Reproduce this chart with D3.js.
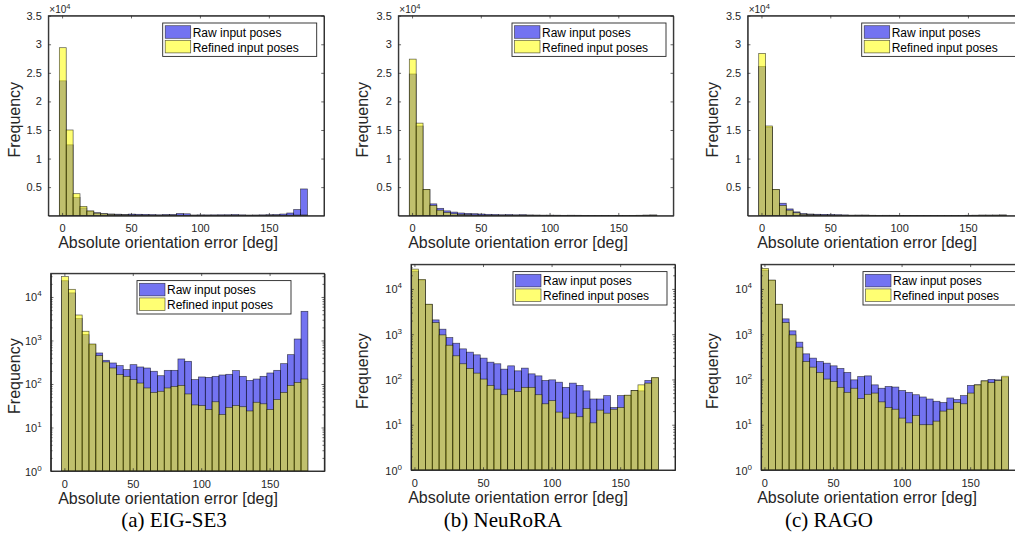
<!DOCTYPE html>
<html>
<head>
<meta charset="utf-8">
<script src="https://cdn.jsdelivr.net/npm/d3@7"></script>
<style>
  body { margin: 0; background: #fff; }
  svg { display: block; }
  text { font-family: "Liberation Sans", Arial, Helvetica, sans-serif; }
  text.cap { font-family: "Liberation Serif", "Times New Roman", serif; }
</style>
</head>
<body>
<svg id="fig"></svg>
<script>
// ---- data (histogram counts per 5 deg bin) ----
var binStarts = [0, 5, 10, 15, 20, 25, 30, 35, 40, 45, 50, 55, 60, 65, 70, 75, 80, 85,
                 90, 95, 100, 105, 110, 115, 120, 125, 130, 135, 140, 145, 150, 155, 160, 165, 170, 175];
var xTickVals = [0, 50, 100, 150];
var linTickVals = [0.5, 1, 1.5, 2, 2.5, 3, 3.5];   // x 10^4
var logTickVals = [1, 10, 100, 1000, 10000];
var seriesNames = ["Raw input poses", "Refined input poses"];
var captions = ["(a) EIG-SE3", "(b) NeuRoRA", "(c) RAGO"];
var xLabel = "Absolute orientation error [deg]";
var yLabel = "Frequency";

var eigRaw = [23600, 12400, 3180, 1360, 800, 516, 350, 304, 264, 214, 278, 246, 233, 196, 155, 206, 206, 376,
              332, 126, 145, 142, 150, 161, 167, 203, 150, 121, 130, 150, 179, 206, 293, 472, 1080, 4680];
var eigRefined = [29400, 15000, 3850, 1630, 830, 448, 321, 233, 164, 150, 126, 105, 81, 64, 68, 81, 88, 93,
                  59, 33, 32, 26, 39, 20, 29, 32, 30, 24, 38, 35, 26, 44, 64, 93, 109, 130];

var neuRaw = [24800, 15700, 4550, 2070, 1290, 843, 632, 474, 401, 350, 296, 241, 222, 169, 200, 155, 178, 133,
              120, 95, 98, 87, 67, 83, 74, 56, 37, 37, 44, 24, 44, 44, 57, 56, 95, 108];
var neuRefined = [27400, 16200, 4600, 1810, 966, 571, 333, 222, 175, 138, 102, 74, 61, 46, 61, 54, 67, 67,
                  46, 29, 34, 19, 14, 18, 15, 23, 11, 21, 18, 22, 24, 45, 57, 76, 83, 111];

var ragoRaw = [26100, 15500, 4550, 2180, 1186, 667, 368, 296, 250, 229, 200, 175, 143, 98, 116, 120, 76, 64,
               70, 68, 57, 52, 46, 41, 37, 33, 31, 39, 36, 44, 74, 76, 93, 100, 98, 110];
var ragoRefined = [28400, 15700, 4600, 1810, 966, 516, 250, 187, 143, 102, 90, 67, 52, 64, 38, 47, 50, 32,
                   24, 22, 14, 11, 16, 10, 10, 12, 20, 22, 31, 29, 50, 76, 93, 85, 95, 118];

var methods = [
  { raw: eigRaw, refined: eigRefined },
  { raw: neuRaw, refined: neuRefined },
  { raw: ragoRaw, refined: ragoRefined }
];

// ---- layout ----
var W = 1015, H = 545;
var binShift = -2, binWidth = 5;
var axisCol = "#262626";
var colRaw = "#0000e6", colRef = "#ffff00", barAlpha = 0.55;

// axes boxes [left, right, top, bottom]
var panels = [
  { col: 0, log: false, box: [48.3, 324, 15.7, 215.7], xmin: -10, legR: 7.3 },
  { col: 1, log: false, box: [398.3, 673.3, 15.7, 215.7], xmin: -10, legR: 7.3 },
  { col: 2, log: false, box: [747.7, 1023, 15.7, 215.7], xmin: -10, legR: 7.3 },
  { col: 0, log: true, box: [50.7, 324.3, 273.3, 471], xmin: -10, legR: 33.3 },
  { col: 1, log: true, box: [411, 675, 264.3, 470], xmin: -2.5, legR: 8 },
  { col: 2, log: true, box: [761, 1025, 264.3, 470], xmin: -2.5, legR: 8 }
];
var xLabelCx = [168, 518, 867];
var yLabelX = [19.8, 368.2, 718];
var captionCx = [174, 503, 829];

var svg = d3.select("#fig").attr("width", W).attr("height", H);

panels.forEach(function(p, idx) {
  var m = methods[p.col];
  var x0 = p.box[0], x1 = p.box[1], y0 = p.box[2], y1 = p.box[3];
  var x = d3.scaleLinear().domain([p.xmin, 190]).range([x0, x1]);
  var y = p.log
    ? d3.scaleLog().domain([1, 35000]).range([y1, y0])
    : d3.scaleLinear().domain([0, 35000]).range([y1, y0]);

  var g = svg.append("g");
  g.append("clipPath").attr("id", "clip" + idx)
    .append("rect").attr("x", x0).attr("y", y0).attr("width", x1 - x0).attr("height", y1 - y0);

  var bars = g.append("g").attr("clip-path", "url(#clip" + idx + ")");
  [[m.raw, colRaw], [m.refined, colRef]].forEach(function(s) {
    bars.append("g").selectAll("rect")
      .data(s[0])
      .join("rect")
      .attr("x", function(d, i) { return x(binStarts[i] + binShift); })
      .attr("width", function(d, i) { return x(binStarts[i] + binShift + binWidth) - x(binStarts[i] + binShift); })
      .attr("y", function(d) { return y(d); })
      .attr("height", function(d) { return y1 - y(d); })
      .attr("fill", s[1])
      .attr("fill-opacity", barAlpha)
      .attr("stroke", "#000")
      .attr("stroke-opacity", 0.65)
      .attr("stroke-width", 0.7);
  });

  // axes
  var tk = 2.75;
  g.append("g").attr("transform", "translate(0," + y1 + ")")
    .call(d3.axisBottom(x).tickValues(xTickVals).tickSize(-tk).tickSizeOuter(0).tickPadding(8.7));
  g.append("g").attr("transform", "translate(0," + y0 + ")")
    .call(d3.axisTop(x).tickValues(xTickVals).tickSize(-tk).tickSizeOuter(0).tickFormat(""));
  var yl;
  if (p.log) {
    var minor = y.ticks().filter(function(v) { return logTickVals.indexOf(v) < 0; });
    g.append("g").attr("transform", "translate(" + x0 + ",0)")
      .call(d3.axisLeft(y).tickValues(minor).tickSize(-1.8).tickSizeOuter(0).tickFormat(""));
    g.append("g").attr("transform", "translate(" + x1 + ",0)")
      .call(d3.axisRight(y).tickValues(minor).tickSize(-1.8).tickSizeOuter(0).tickFormat(""));
    yl = g.append("g").attr("transform", "translate(" + x0 + ",0)")
      .call(d3.axisLeft(y).tickValues(logTickVals).tickSize(-tk).tickSizeOuter(0).tickPadding(9).tickFormat(""));
    yl.selectAll(".tick text").each(function(d) {
      var t = d3.select(this).attr("dy", null).attr("y", 4);
      t.append("tspan").text("10");
      t.append("tspan").attr("dy", -5).attr("font-size", 8).text(String(Math.round(Math.log10(d))));
    });
    g.append("g").attr("transform", "translate(" + x1 + ",0)")
      .call(d3.axisRight(y).tickValues(logTickVals).tickSize(-tk).tickSizeOuter(0).tickFormat(""));
  } else {
    g.append("g").attr("transform", "translate(" + x0 + ",0)")
      .call(d3.axisLeft(y).tickValues(linTickVals.map(function(v) { return v * 1e4; }))
        .tickSize(-tk).tickSizeOuter(0).tickPadding(6.5)
        .tickFormat(function(d) { return d3.format("~g")(d / 1e4); }));
    g.append("g").attr("transform", "translate(" + x1 + ",0)")
      .call(d3.axisRight(y).tickValues(linTickVals.map(function(v) { return v * 1e4; }))
        .tickSize(-tk).tickSizeOuter(0).tickFormat(""));
    var mult = g.append("text").attr("x", x0 + 1).attr("y", y0 - 3)
      .attr("font-size", 10).attr("fill", axisCol);
    mult.append("tspan").text("\u00d710");
    mult.append("tspan").attr("dy", -4).attr("font-size", 7.5).text("4");
  }
  g.selectAll(".domain").attr("stroke", axisCol).attr("stroke-width", 0.9);
  g.selectAll(".tick line").attr("stroke", axisCol).attr("stroke-width", 0.7);
  g.selectAll(".tick text").attr("fill", axisCol).attr("font-size", 11);

  // box
  g.append("rect").attr("x", x0).attr("y", y0).attr("width", x1 - x0).attr("height", y1 - y0)
    .attr("fill", "none").attr("stroke", axisCol).attr("stroke-width", 0.9);

  // labels
  g.append("text").attr("x", xLabelCx[p.col]).attr("y", y1 + 32.5)
    .attr("text-anchor", "middle").attr("font-size", 16).attr("fill", axisCol).text(xLabel);
  var cy = (y0 + y1) / 2 + 4;
  g.append("text").attr("transform", "translate(" + yLabelX[p.col] + "," + cy + ") rotate(-90)")
    .attr("text-anchor", "middle").attr("font-size", 16).attr("fill", axisCol).text(yLabel);

  // legend
  var lw = 154, lh = 33.4;
  var lx = x1 - p.legR - lw, ly = y0 + 7.3;
  var leg = g.append("g").attr("transform", "translate(" + lx + "," + ly + ")");
  leg.append("rect").attr("width", lw).attr("height", lh).attr("fill", "#fff")
    .attr("stroke", axisCol).attr("stroke-width", 0.9);
  [colRaw, colRef].forEach(function(c, i) {
    leg.append("rect").attr("x", 2.5).attr("y", 2.7 + i * 14.6).attr("width", 25.5).attr("height", 12.6)
      .attr("fill", c).attr("fill-opacity", barAlpha)
      .attr("stroke", "#000").attr("stroke-opacity", 0.65).attr("stroke-width", 0.7);
    leg.append("text").attr("x", 30).attr("y", 13.8 + i * 14.8)
      .attr("font-size", 12).attr("fill", "#000").text(seriesNames[i]);
  });
});

// sub-figure captions
svg.selectAll("text.cap")
  .data(captions)
  .join("text")
  .attr("class", "cap")
  .attr("x", function(d, i) { return captionCx[i]; })
  .attr("y", 527)
  .attr("text-anchor", "middle")
  .attr("font-size", 21)
  .attr("fill", "#000")
  .text(function(d) { return d; });
</script>
</body>
</html>
